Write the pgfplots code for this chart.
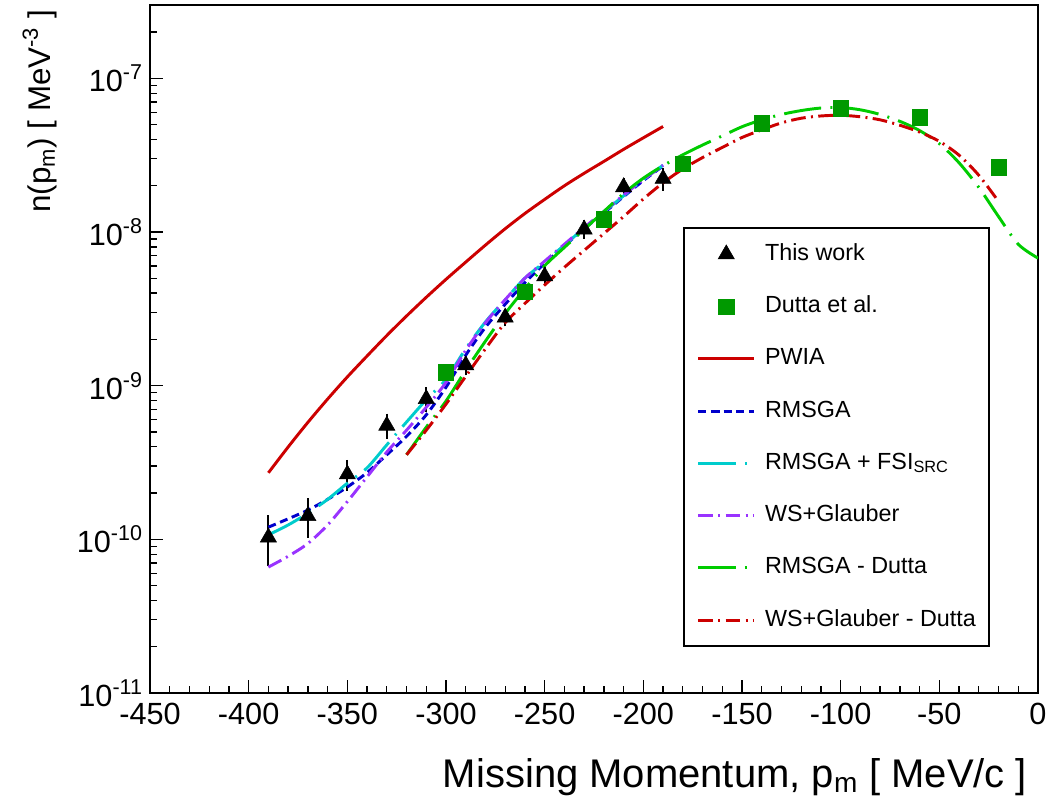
\documentclass[border=0pt]{standalone}
\usepackage{fontspec}
\setmainfont{Liberation Sans}
\usepackage{pgfplots}
\pgfplotsset{compat=1.18}

\definecolor{pwiared}{RGB}{204,0,0}
\definecolor{rmsgablue}{RGB}{0,0,204}
\definecolor{fsicyan}{RGB}{0,204,204}
\definecolor{wsviolet}{RGB}{153,51,255}
\definecolor{duttagreen}{RGB}{0,204,0}
\definecolor{sqgreen}{RGB}{0,153,0}

\begin{document}
\begin{tikzpicture}
\useasboundingbox (-112.5pt,-81.75pt) rectangle (673.5pt,519.75pt);
\begin{axis}[
  at={(0,0)}, anchor=south west,
  scale only axis, width=666pt, height=516pt,
  ymode=log,
  xmin=-450, xmax=0, ymin=1e-11, ymax=3e-7,
  axis line style={line width=1.5pt},
  tick align=inside, tick pos=left,
  major tick length=10pt, minor tick length=5pt,
  every tick/.style={black, line width=1pt},
  xtick={-450,-400,-350,-300,-250,-200,-150,-100,-50,0},
  xticklabels={-450,-400,-350,-300,-250,-200,-150,-100,-50,0},
  minor x tick num=4,
  ytick={1e-11,1e-10,1e-9,1e-8,1e-7},
  yticklabels={10\textsuperscript{-11},10\textsuperscript{-10},10\textsuperscript{-9},10\textsuperscript{-8},10\textsuperscript{-7}},
  minor ytick={2e-11,3e-11,4e-11,5e-11,6e-11,7e-11,8e-11,9e-11,
               2e-10,3e-10,4e-10,5e-10,6e-10,7e-10,8e-10,9e-10,
               2e-9,3e-9,4e-9,5e-9,6e-9,7e-9,8e-9,9e-9,
               2e-8,3e-8,4e-8,5e-8,6e-8,7e-8,8e-8,9e-8,
               2e-7},
  ticklabel style={font=\fontsize{23}{27}\selectfont},
  xticklabel style={yshift=-4pt},
  yticklabel style={xshift=-2pt},
  xlabel={Missing Momentum, p\textsubscript{m} [ MeV/c ]},
  xlabel style={font=\fontsize{30}{34}\selectfont, at={(axis description cs:0.993,-0.137)}, anchor=base east},
  ylabel={n(p\textsubscript{m}) [ MeV\textsuperscript{-3} ]},
  ylabel style={font=\fontsize{23.5}{27}\selectfont, at={(axis description cs:-0.1126,1)}, anchor=base east},
  legend style={at={(0.600,0.677)}, anchor=north west, draw=black, line width=1.5pt,
    font=\fontsize{17.5}{20}\selectfont, inner xsep=9.75pt, inner ysep=11pt,
    row sep=22.2pt, column sep=7pt,
    nodes={inner sep=0pt, text height=13pt, text depth=4pt}},
  legend cell align=left,
  legend image code/.code={\draw[mark repeat=2, mark phase=2, #1] plot coordinates {(0pt,0pt) (21pt,0pt) (42pt,0pt)};},
]

% This work
\addplot[only marks, mark=triangle*, mark size=7pt, black,
  mark options={fill=black, line width=0.4pt, solid},
  error bars/.cd, y dir=both, y explicit,
  error bar style={line width=1.5pt, black},
  error mark options={line width=1.5pt, mark size=3pt, black}]
coordinates {
  (-390,1.03e-10) +- (0,0.32e-10)
  (-370,1.42e-10) +- (0,0.33e-10)
  (-350,2.65e-10) +- (0,0.45e-10)
  (-330,5.50e-10) +- (0,0.70e-10)
  (-310,8.20e-10) +- (0,1.0e-10)
  (-290,1.36e-9) +- (0,1.2e-10)
  (-270,2.78e-9) +- (0,2e-10)
  (-250,5.15e-9) +- (0,4e-10)
  (-230,1.04e-8) +- (0,8e-10)
  (-210,1.96e-8) +- (0,1.5e-9)
  (-190,2.22e-8) +- (0,2.5e-9)
};
\addlegendentry{This work}

% Dutta et al.
\addplot[only marks, mark=square*, mark size=5.8pt, sqgreen,
  mark options={fill=sqgreen, line width=0.4pt, solid}]
coordinates {
  (-300,1.22e-9) (-260,4.1e-9) (-220,1.21e-8) (-180,2.79e-8)
  (-140,5.1e-8) (-100,6.4e-8) (-60,5.57e-8) (-20,2.63e-8)
};
\addlegendentry{Dutta et al.}

% PWIA
\addplot[pwiared, line width=2.2pt, solid, smooth] coordinates {
  (-390,2.71e-10) (-380,3.99e-10) (-370,5.77e-10) (-360,8.18e-10)
  (-350,1.14e-9) (-340,1.56e-9) (-330,2.12e-9) (-320,2.84e-9)
  (-310,3.76e-9) (-300,4.92e-9) (-290,6.37e-9) (-280,8.22e-9)
  (-270,1.05e-8) (-260,1.32e-8) (-250,1.63e-8) (-240,2.0e-8)
  (-230,2.41e-8) (-220,2.88e-8) (-210,3.45e-8) (-200,4.10e-8)
  (-190,4.86e-8)
};
\addlegendentry{PWIA}

% RMSGA
\addplot[rmsgablue, line width=2.2pt, smooth, dash pattern=on 6pt off 3.5pt] coordinates {
  (-390,1.20e-10) (-380,1.36e-10) (-370,1.55e-10) (-360,1.82e-10)
  (-350,2.19e-10) (-340,2.72e-10) (-330,3.55e-10) (-320,4.68e-10)
  (-310,6.46e-10) (-300,9.77e-10) (-290,1.58e-9) (-280,2.40e-9)
  (-270,3.39e-9) (-260,4.68e-9) (-250,6.24e-9) (-240,8.13e-9)
  (-230,1.05e-8) (-220,1.33e-8) (-210,1.70e-8) (-200,2.16e-8)
  (-190,2.69e-8)
};
\addlegendentry{RMSGA}

% RMSGA + FSI_SRC
\addplot[fsicyan, line width=2.2pt, smooth, dash pattern=on 28pt off 7pt on 1.5pt off 7pt] coordinates {
  (-390,1.07e-10) (-380,1.24e-10) (-370,1.48e-10) (-360,1.82e-10)
  (-350,2.32e-10) (-340,2.92e-10) (-330,4.12e-10) (-320,5.8e-10)
  (-310,8.1e-10) (-300,1.10e-9) (-290,1.74e-9) (-280,2.60e-9)
  (-270,3.63e-9) (-260,5.01e-9) (-250,6.38e-9) (-240,8.22e-9)
  (-230,1.06e-8) (-220,1.35e-8) (-210,1.72e-8) (-200,2.19e-8)
  (-190,2.72e-8)
};
\addlegendentry{RMSGA + FSI\textsubscript{SRC}}

% WS+Glauber
\addplot[wsviolet, line width=2.2pt, smooth, dash pattern=on 11pt off 4pt on 1.5pt off 4pt] coordinates {
  (-390,6.6e-11) (-380,7.76e-11) (-370,9.4e-11) (-360,1.24e-10)
  (-350,1.76e-10) (-340,2.55e-10) (-330,3.70e-10) (-320,5.13e-10)
  (-310,7.24e-10) (-300,1.05e-9) (-290,1.70e-9) (-280,2.57e-9)
  (-270,3.63e-9) (-260,5.01e-9) (-250,6.46e-9) (-240,8.32e-9)
  (-230,1.07e-8) (-220,1.36e-8) (-210,1.74e-8) (-200,2.19e-8)
  (-190,2.72e-8)
};
\addlegendentry{WS+Glauber}

% RMSGA - Dutta
\addplot[duttagreen, line width=2.2pt, smooth, dash pattern=on 28pt off 7pt on 1.5pt off 7pt] coordinates {
  (-320,3.55e-10) (-310,5.37e-10) (-300,7.94e-10) (-290,1.26e-9)
  (-280,1.95e-9) (-270,2.95e-9) (-260,4.27e-9) (-250,6.03e-9)
  (-240,7.94e-9) (-230,1.04e-8) (-220,1.36e-8) (-210,1.78e-8)
  (-200,2.24e-8) (-190,2.70e-8) (-180,3.18e-8) (-170,3.68e-8)
  (-160,4.22e-8) (-150,4.84e-8) (-140,5.37e-8) (-130,5.82e-8)
  (-120,6.17e-8) (-110,6.41e-8) (-100,6.46e-8) (-90,6.24e-8)
  (-80,5.82e-8) (-70,5.25e-8) (-60,4.57e-8) (-50,3.76e-8)
  (-40,2.82e-8) (-30,1.95e-8) (-20,1.26e-8) (-10,8.32e-9)
  (0,6.76e-9)
};
\addlegendentry{RMSGA - Dutta}

% WS+Glauber - Dutta
\addplot[pwiared, line width=2.2pt, smooth, dash pattern=on 11pt off 4pt on 1.5pt off 4pt] coordinates {
  (-320,3.55e-10) (-310,5.13e-10) (-300,7.59e-10) (-290,1.15e-9)
  (-280,1.74e-9) (-270,2.57e-9) (-260,3.43e-9) (-250,4.52e-9)
  (-240,5.89e-9) (-230,7.59e-9) (-220,9.77e-9) (-210,1.26e-8)
  (-200,1.64e-8) (-190,2.09e-8) (-180,2.57e-8) (-170,3.05e-8)
  (-160,3.55e-8) (-150,4.12e-8) (-140,4.62e-8) (-130,5.13e-8)
  (-120,5.50e-8) (-110,5.69e-8) (-100,5.75e-8) (-90,5.62e-8)
  (-80,5.37e-8) (-70,4.95e-8) (-60,4.47e-8) (-50,3.89e-8)
  (-40,3.16e-8) (-30,2.34e-8) (-20,1.58e-8)
};
\addlegendentry{WS+Glauber - Dutta}

\end{axis}
\end{tikzpicture}
\end{document}
